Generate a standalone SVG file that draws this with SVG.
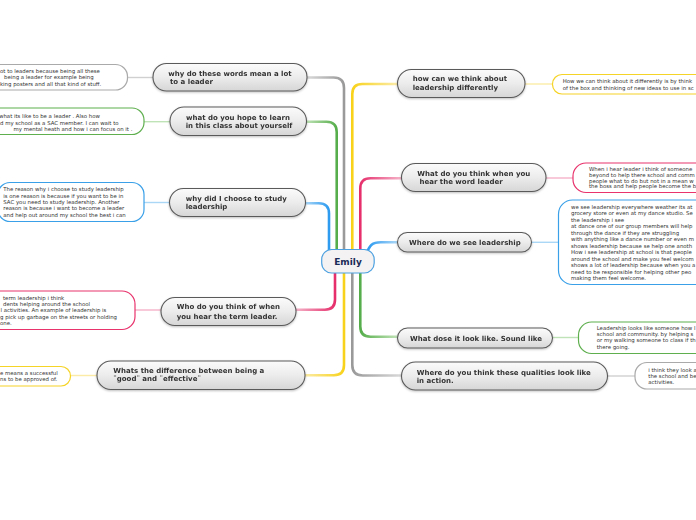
<svg xmlns="http://www.w3.org/2000/svg" width="696" height="520" viewBox="0 0 696 520">
<style>
.node rect{stroke:#5a5a5a;stroke-width:1.1;fill:url(#nodeFill)}
.nt{font-family:"DejaVu Sans",Verdana,sans-serif;font-size:7px;font-weight:bold;fill:#333}
.note rect{fill:#fff;stroke-width:1.2}
.tx{font-family:"DejaVu Sans",Verdana,sans-serif;font-size:5.4px;fill:#333}
.br{fill:none;stroke-width:2.6;stroke-linecap:round}
.ln{fill:none;stroke-width:1.4}
</style>
<defs>
<linearGradient id="nodeFill" x1="0" y1="0" x2="0" y2="1">
<stop offset="0" stop-color="#fbfbfb"/><stop offset="0.5" stop-color="#ececec"/><stop offset="1" stop-color="#d6d6d6"/>
</linearGradient>
<filter id="sh" x="-10%" y="-20%" width="120%" height="160%"><feDropShadow dx="0" dy="1" stdDeviation="0.8" flood-color="#000" flood-opacity="0.25"/></filter>
<linearGradient id="gL1" gradientUnits="userSpaceOnUse" x1="344" y1="0" x2="307" y2="0"><stop offset="0" stop-color="#999"/><stop offset="1" stop-color="#d9d9d9"/></linearGradient>
<linearGradient id="gL2" gradientUnits="userSpaceOnUse" x1="337" y1="0" x2="306" y2="0"><stop offset="0" stop-color="#55ad4a"/><stop offset="1" stop-color="#bfe2b6"/></linearGradient>
<linearGradient id="gL3" gradientUnits="userSpaceOnUse" x1="329" y1="0" x2="305" y2="0"><stop offset="0" stop-color="#2d9bf0"/><stop offset="1" stop-color="#abd7f7"/></linearGradient>
<linearGradient id="gL4" gradientUnits="userSpaceOnUse" x1="335" y1="0" x2="296" y2="0"><stop offset="0" stop-color="#e62e6b"/><stop offset="1" stop-color="#f5b2c8"/></linearGradient>
<linearGradient id="gL5" gradientUnits="userSpaceOnUse" x1="344" y1="0" x2="305" y2="0"><stop offset="0" stop-color="#f8d21a"/><stop offset="1" stop-color="#fbeba6"/></linearGradient>
<linearGradient id="gR1" gradientUnits="userSpaceOnUse" x1="352" y1="0" x2="397" y2="0"><stop offset="0" stop-color="#f8d21a"/><stop offset="1" stop-color="#fbeba6"/></linearGradient>
<linearGradient id="gR2" gradientUnits="userSpaceOnUse" x1="360" y1="0" x2="401" y2="0"><stop offset="0" stop-color="#e62e6b"/><stop offset="1" stop-color="#f5b2c8"/></linearGradient>
<linearGradient id="gR3" gradientUnits="userSpaceOnUse" x1="368" y1="0" x2="397" y2="0"><stop offset="0" stop-color="#2d9bf0"/><stop offset="1" stop-color="#abd7f7"/></linearGradient>
<linearGradient id="gR4" gradientUnits="userSpaceOnUse" x1="360" y1="0" x2="397" y2="0"><stop offset="0" stop-color="#55ad4a"/><stop offset="1" stop-color="#bfe2b6"/></linearGradient>
<linearGradient id="gR5" gradientUnits="userSpaceOnUse" x1="352" y1="0" x2="401" y2="0"><stop offset="0" stop-color="#999"/><stop offset="1" stop-color="#d9d9d9"/></linearGradient>
</defs>
<rect width="696" height="520" fill="#fff"/>

<g id="connectors">
<path class="br" stroke="url(#gL1)" d="M344,262 V88 Q344,77.5 333.5,77.5 H307"/>
<path class="br" stroke="url(#gL2)" d="M336.7,262 V132 Q336.7,121.7 326.4,121.7 H306"/>
<path class="br" stroke="url(#gL3)" d="M329,262 V213.5 Q329,203.2 318.7,203.2 H305"/>
<path class="br" stroke="url(#gL4)" d="M335,262 V299.5 Q335,309.7 324.8,309.7 H296"/>
<path class="br" stroke="url(#gL5)" d="M344,262 V365 Q344,375.2 333.8,375.2 H305"/>
<path class="br" stroke="url(#gR1)" d="M352.3,262 V94 Q352.3,84 362.3,84 H397"/>
<path class="br" stroke="url(#gR2)" d="M360.3,262 V188.5 Q360.3,178.3 370.5,178.3 H401"/>
<path class="br" stroke="url(#gR3)" d="M366,254 C370,245 372,242.3 381,242.3 H397"/>
<path class="br" stroke="url(#gR4)" d="M360.3,262 V326.5 Q360.3,336.7 370.5,336.7 H397"/>
<path class="br" stroke="url(#gR5)" d="M352.3,262 V365 Q352.3,375.5 362.8,375.5 H401"/>
<line class="ln" stroke="#d0d0d0" x1="127" y1="77.5" x2="153" y2="77.5"/>
<line class="ln" stroke="#bfe2b6" x1="144" y1="121.7" x2="170" y2="121.7"/>
<line class="ln" stroke="#abd7f7" x1="144" y1="202.5" x2="169.5" y2="202.5"/>
<line class="ln" stroke="#f5b2c8" x1="135" y1="310" x2="161" y2="310"/>
<line class="ln" stroke="#fbeba6" x1="70.5" y1="375.5" x2="97" y2="375.5"/>
<line class="ln" stroke="#fbeba6" x1="525" y1="84" x2="552.5" y2="84"/>
<line class="ln" stroke="#f5b2c8" x1="546" y1="178" x2="573" y2="178"/>
<line class="ln" stroke="#abd7f7" x1="531.5" y1="242.3" x2="558.5" y2="242.3"/>
<line class="ln" stroke="#bfe2b6" x1="552.5" y1="337.5" x2="578.5" y2="337.5"/>
<line class="ln" stroke="#d0d0d0" x1="607.5" y1="376" x2="635" y2="376"/>
</g>

<g id="emily">
<rect x="321.7" y="249.5" width="52.5" height="23.5" rx="10" fill="#f4f2f2" stroke="#4ea1e0" stroke-width="1.2"/>
<text x="348" y="264.8" text-anchor="middle" font-family="DejaVu Sans,Verdana,sans-serif" font-size="9px" font-weight="bold" fill="#1b2b57">Emily</text>
</g>

<g id="node-l1" class="node" filter="url(#sh)">
<rect x="153" y="63.5" width="154" height="27.5" rx="13.5"/>
<text class="nt" x="168.3" y="76">why do these words mean a lot</text>
<text class="nt" x="170" y="84"> to a leader</text>
</g>
<g id="node-l2" class="node" filter="url(#sh)">
<rect x="170" y="107" width="136.5" height="28.5" rx="14"/>
<text class="nt" x="186" y="119.5">what do you hope to learn</text>
<text class="nt" x="185.7" y="127.5">in this class about yourself</text>
</g>
<g id="node-l3" class="node" filter="url(#sh)">
<rect x="169.5" y="188.5" width="136" height="28" rx="14"/>
<text class="nt" x="185.7" y="201">why did I choose to study</text>
<text class="nt" x="185.7" y="209">leadership</text>
</g>
<g id="node-l4" class="node" filter="url(#sh)">
<rect x="161" y="297.5" width="135" height="28" rx="14"/>
<text class="nt" x="176.7" y="309">Who do you think of when</text>
<text class="nt" x="176.7" y="318.5">you hear the term leader.</text>
</g>
<g id="node-l5" class="node" filter="url(#sh)">
<rect x="97" y="361" width="208" height="28.5" rx="14"/>
<text class="nt" x="113.3" y="373">Whats the difference between being a</text>
<text class="nt" x="113.3" y="381">¨good¨ and ¨effective¨</text>
</g>
<g id="node-r1" class="node" filter="url(#sh)">
<rect x="397.5" y="69.5" width="127.5" height="28" rx="14"/>
<text class="nt" x="412.7" y="81.3">how can we think about</text>
<text class="nt" x="412.7" y="90.3">leadership differently</text>
</g>
<g id="node-r2" class="node" filter="url(#sh)">
<rect x="401.5" y="163.5" width="144.5" height="28" rx="14"/>
<text class="nt" x="417.3" y="176.3">What do you think when you</text>
<text class="nt" x="419.5" y="184.3">hear the word leader</text>
</g>
<g id="node-r3" class="node" filter="url(#sh)">
<rect x="397.5" y="232.5" width="134" height="19.5" rx="9.75"/>
<text class="nt" x="409" y="244.8">Where do we see leadership</text>
</g>
<g id="node-r4" class="node" filter="url(#sh)">
<rect x="397.5" y="328" width="155" height="20" rx="10"/>
<text class="nt" x="410" y="340.8">What dose it look like. Sound like</text>
</g>
<g id="node-r5" class="node" filter="url(#sh)">
<rect x="401.5" y="362" width="206" height="28" rx="14"/>
<text class="nt" x="416.7" y="374.8">Where do you think these qualities look like</text>
<text class="nt" x="416.7" y="383">in action.</text>
</g>

<g id="note-l1" class="note">
<rect x="-20" y="64.5" width="147.5" height="25.5" rx="12" stroke="#aaaaaa"/>
<text class="tx" x="0" y="72.5">ot to leaders because being all these</text>
<text class="tx" x="4" y="79.4">being a leader for example being</text>
<text class="tx" x="0" y="86.2">king posters and all that kind of stuff.</text>
</g>
<g id="note-l2" class="note">
<rect x="-20" y="108" width="164" height="26.5" rx="12" stroke="#5faf4f"/>
<text class="tx" x="-1" y="117.8">what its like to be a leader . Also how</text>
<text class="tx" x="0" y="124.5">d my school as a SAC member. I can wait to</text>
<text class="tx" x="13.5" y="130.8">my mental heath and how i can focus on it .</text>
</g>
<g id="note-l3" class="note">
<rect x="-2" y="182.5" width="146" height="39" rx="12" stroke="#3aa0e8"/>
<text class="tx" x="3.3" y="191">The reason why i choose to study leadership</text>
<text class="tx" x="3.3" y="197.5">is one reason is because if you want to be in</text>
<text class="tx" x="3.3" y="203.8">SAC you need to study leadership. Another</text>
<text class="tx" x="3.3" y="210.2">reason is because i want to become a leader</text>
<text class="tx" x="3.3" y="216.6">and help out around my school the best i can</text>
</g>
<g id="note-l4" class="note">
<rect x="-20" y="291" width="155" height="38.5" rx="13" stroke="#e8336d"/>
<text class="tx" x="3" y="300">term leadership i think</text>
<text class="tx" x="3" y="306">dents helping around the school</text>
<text class="tx" x="0.5" y="312">l activities. An example  of leadership is</text>
<text class="tx" x="0" y="318.8">g pick up garbage on the streets or holding</text>
<text class="tx" x="0" y="325.2">one.</text>
</g>
<g id="note-l5" class="note">
<rect x="-20" y="366.5" width="90.5" height="19.5" rx="9.5" stroke="#f5d327"/>
<text class="tx" x="0" y="374.5">e means a successful</text>
<text class="tx" x="0" y="381">ns to be approved of.</text>
</g>
<g id="note-r1" class="note">
<rect x="552.5" y="74.5" width="160" height="19.5" rx="9.5" stroke="#f5d327"/>
<text class="tx" x="562.7" y="82.5">How we can think about it differently is by think</text>
<text class="tx" x="562.7" y="90">of the box and thinking of new ideas to use in sc</text>
</g>
<g id="note-r2" class="note">
<rect x="573" y="163" width="140" height="29.5" rx="13" stroke="#e8336d"/>
<text class="tx" x="589" y="171">When i hear leader i think of someone</text>
<text class="tx" x="589" y="176.8">beyond to help there school and comm</text>
<text class="tx" x="589" y="182.6">people what to do but not in a mean w</text>
<text class="tx" x="589" y="188.4">the boss and  help people become the b</text>
</g>
<g id="note-r3" class="note">
<rect x="558.5" y="200" width="160" height="84.5" rx="14" stroke="#3aa0e8"/>
<text class="tx" x="571" y="208.5">we see leadership everywhere weather its at</text>
<text class="tx" x="571" y="215"> grocery store or even at my dance studio. Se</text>
<text class="tx" x="571" y="221.5">the leadership i see</text>
<text class="tx" x="571" y="228">at dance one of our group members will help</text>
<text class="tx" x="571" y="234.5">through the dance if they are struggling</text>
<text class="tx" x="571" y="241">with anything like a dance number or even m</text>
<text class="tx" x="571" y="247.5">shows leadership because se help one anoth</text>
<text class="tx" x="571" y="254">How i see leadership at school is that people</text>
<text class="tx" x="571" y="260.5">around the school and make you feel welcom</text>
<text class="tx" x="571" y="267">shows a lot of leadership because when you a</text>
<text class="tx" x="571" y="273.5">need to  be responsible  for helping other peo</text>
<text class="tx" x="571" y="280">making them feel welcome.</text>
</g>
<g id="note-r4" class="note">
<rect x="578.5" y="322" width="140" height="31.5" rx="13" stroke="#5faf4f"/>
<text class="tx" x="596.7" y="330">Leadership looks like someone how l</text>
<text class="tx" x="596.7" y="336">school and community. by helping s</text>
<text class="tx" x="596.7" y="342">or my walking someone to class if th</text>
<text class="tx" x="596.7" y="349">there going.</text>
</g>
<g id="note-r5" class="note">
<rect x="635" y="362.5" width="80" height="26.5" rx="12" stroke="#aaaaaa"/>
<text class="tx" x="648.3" y="371.8">i think they look a</text>
<text class="tx" x="648.3" y="377.8">the school and be</text>
<text class="tx" x="648.3" y="383.5">activities.</text>
</g>
</svg>
